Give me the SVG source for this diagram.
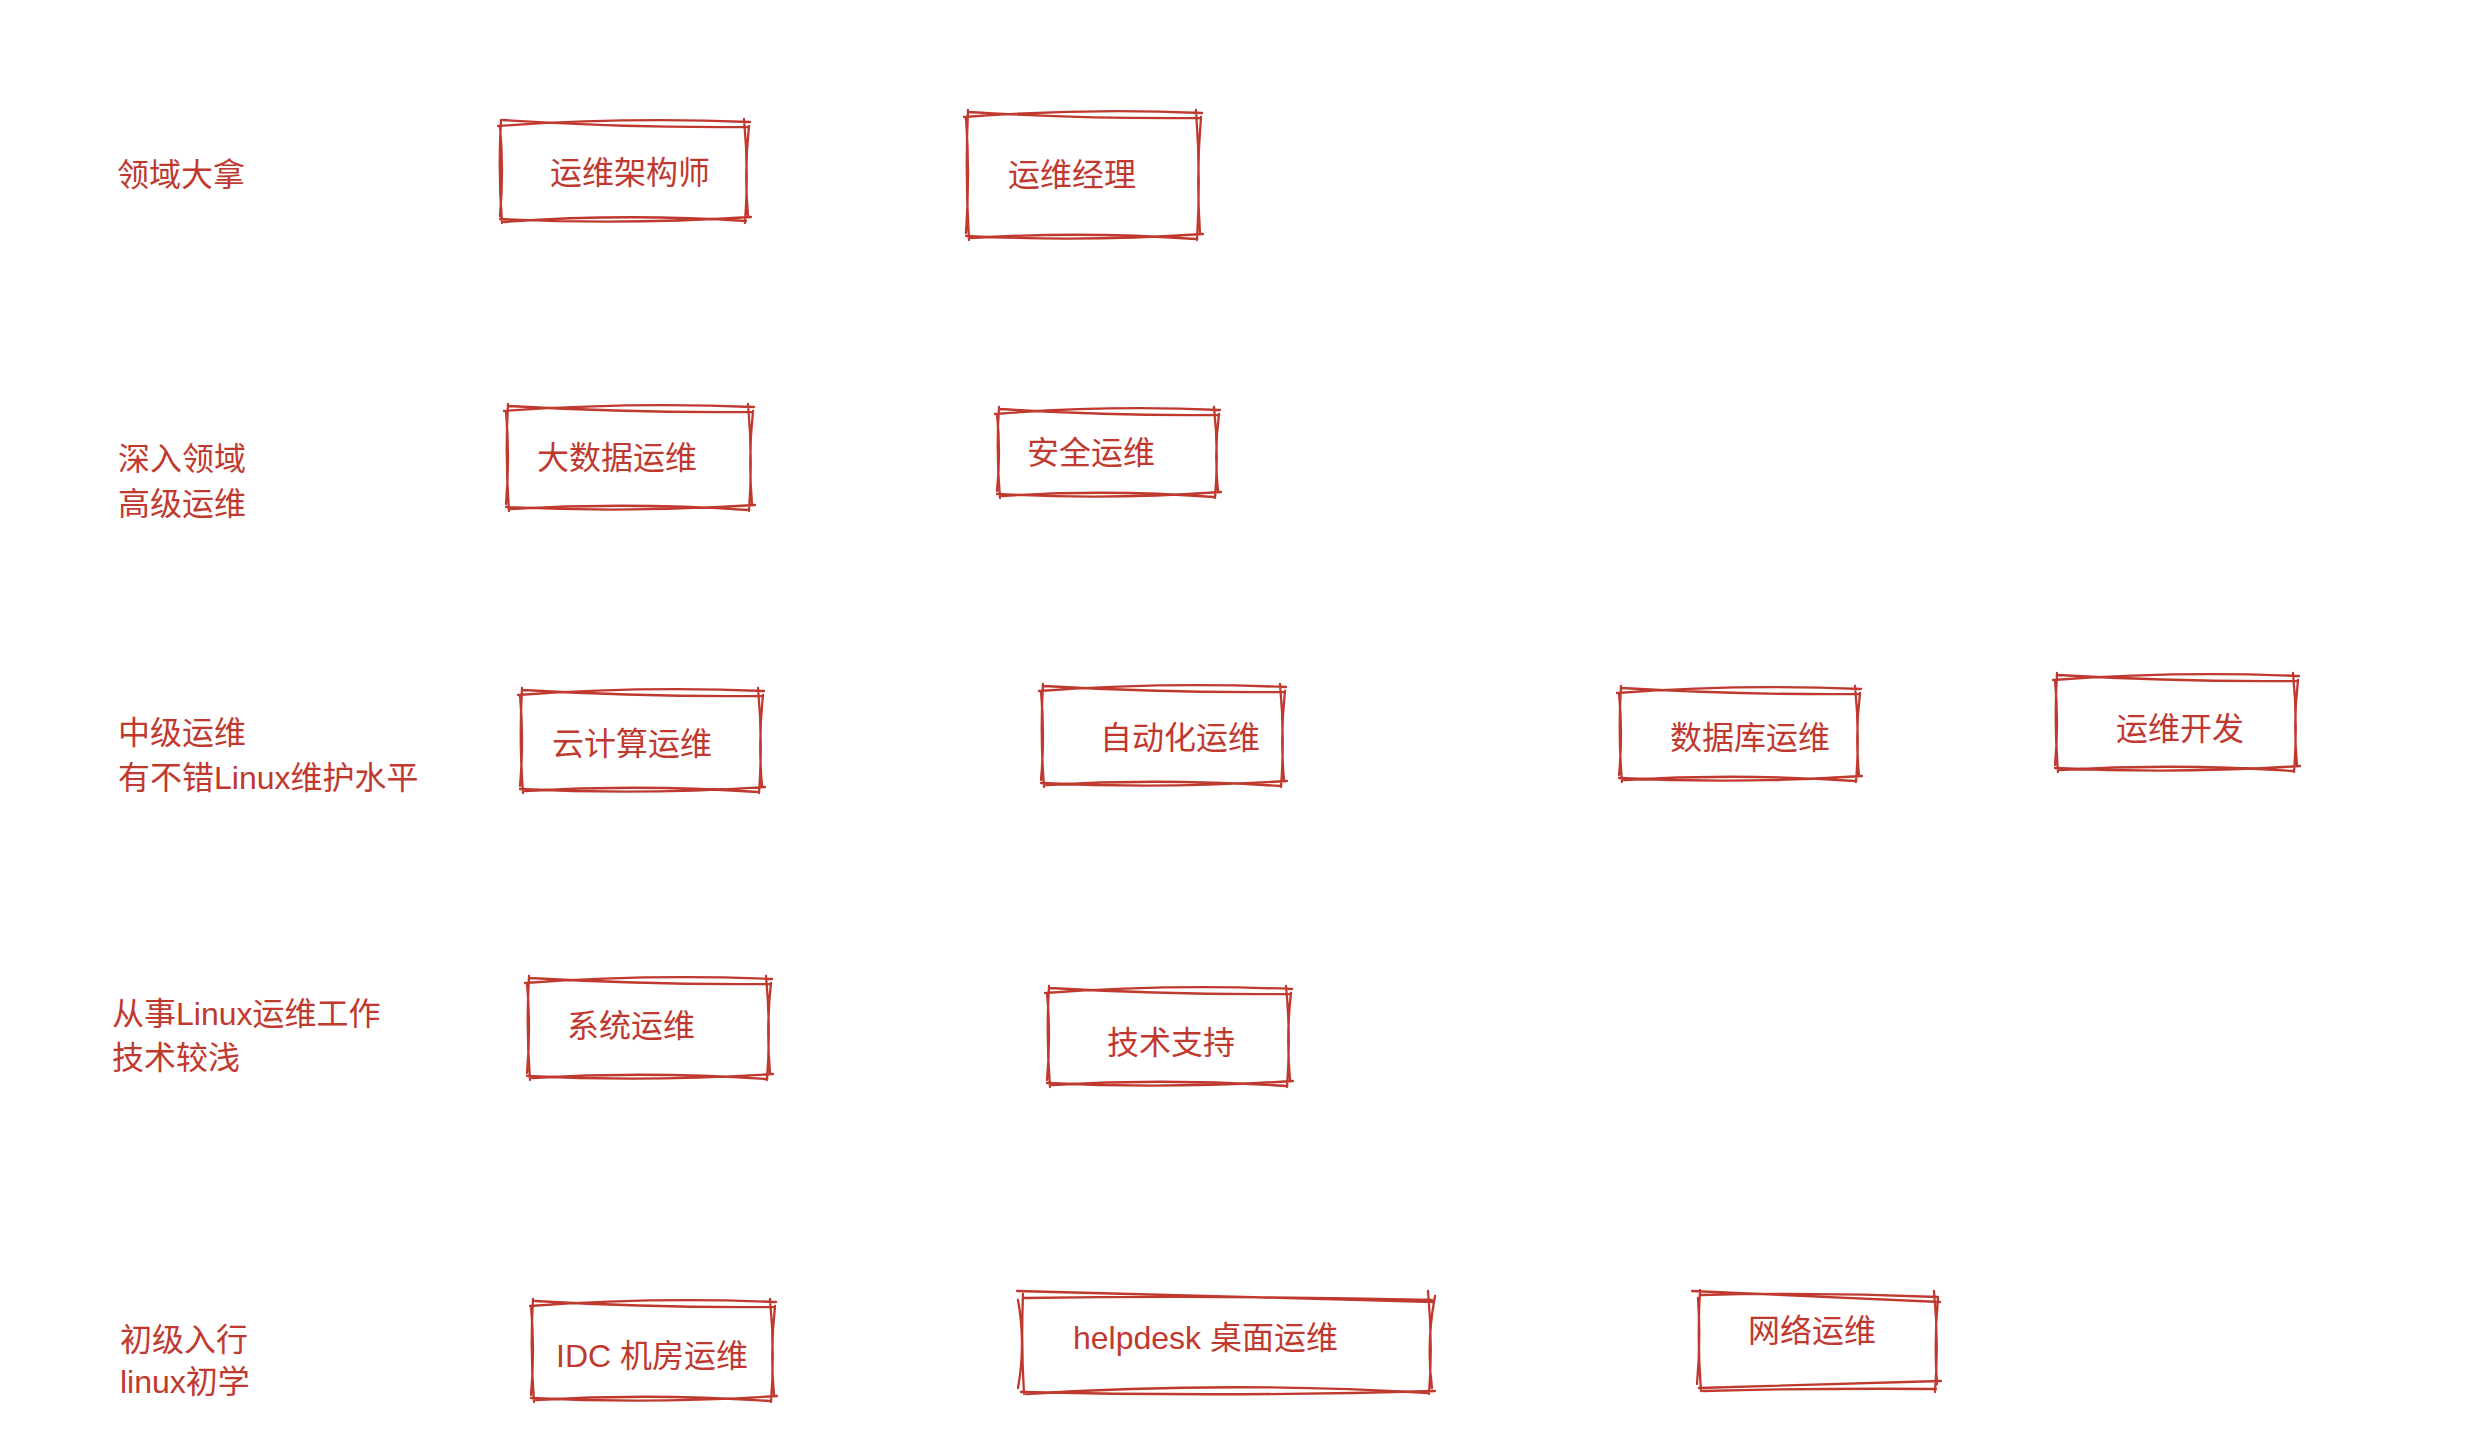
<svg xmlns="http://www.w3.org/2000/svg" width="2486" height="1450" viewBox="0 0 2486 1450">
<style>
.t{font-family:"Liberation Sans","Noto Sans CJK SC",sans-serif;font-size:32px;fill:#c0392f}
.b{fill:none;stroke:#c0392f;stroke-width:2.3;stroke-linecap:round;stroke-linejoin:round}
</style>
<rect x="0" y="0" width="2486" height="1450" fill="#ffffff"/>
<g id="labels">
<text class="t" x="117" y="186">领域大拿</text>
<text class="t" x="118" y="470">深入领域</text>
<text class="t" x="118" y="515">高级运维</text>
<text class="t" x="118" y="744">中级运维</text>
<text class="t" x="118" y="789">有不错Linux维护水平</text>
<text class="t" x="112" y="1025">从事Linux运维工作</text>
<text class="t" x="112" y="1069">技术较浅</text>
<text class="t" x="120" y="1351">初级入行</text>
<text class="t" x="120" y="1393">linux初学</text>
</g>
<g id="n1">
<path class="b" d="M498,126 Q624,117 750,122 M503,120 Q624,128 748,127 M744,119 Q749,171 745,223 M749,126 Q744,171 748,216 M751,217 Q624,225 500,219 M746,221 Q624,213 504,222 M502,223 Q498,171 501,120 M500,216 Q504,171 500,126"/>
<text class="t" x="550" y="184">运维架构师</text>
</g>
<g id="n2">
<path class="b" d="M964,117 Q1083,108 1202,113 M969,112 Q1083,119 1200,118 M1196,110 Q1201,175 1197,240 M1201,117 Q1196,175 1200,233 M1203,234 Q1083,242 966,236 M1196,239 Q1083,231 971,238 M969,240 Q965,175 968,110 M966,233 Q970,175 966,117"/>
<text class="t" x="1008" y="186">运维经理</text>
</g>
<g id="n3">
<path class="b" d="M504,411 Q629,402 754,407 M509,406 Q629,413 752,412 M748,404 Q753,457 749,511 M753,411 Q748,457 752,504 M755,505 Q629,513 506,507 M748,510 Q629,502 511,509 M509,511 Q505,457 508,404 M506,504 Q510,457 506,411"/>
<text class="t" x="537" y="469">大数据运维</text>
</g>
<g id="n4">
<path class="b" d="M995,414 Q1107,405 1220,410 M1000,409 Q1107,416 1218,415 M1214,407 Q1219,452 1215,498 M1219,414 Q1214,452 1218,491 M1221,492 Q1107,500 997,494 M1214,497 Q1107,489 1002,496 M1000,498 Q996,452 999,407 M997,491 Q1001,452 997,414"/>
<text class="t" x="1027" y="464">安全运维</text>
</g>
<g id="n5">
<path class="b" d="M518,695 Q641,686 764,691 M523,690 Q641,697 762,696 M758,688 Q763,740 759,793 M763,695 Q758,740 762,786 M765,787 Q641,795 520,789 M758,792 Q641,784 525,791 M523,793 Q519,740 522,688 M520,786 Q524,740 520,695"/>
<text class="t" x="552" y="755">云计算运维</text>
</g>
<g id="n6">
<path class="b" d="M1039,691 Q1162,682 1286,687 M1044,686 Q1162,693 1284,692 M1280,684 Q1285,735 1281,787 M1285,691 Q1280,735 1284,780 M1287,781 Q1162,789 1041,783 M1280,786 Q1162,778 1046,785 M1044,787 Q1040,735 1043,684 M1041,780 Q1045,735 1041,691"/>
<text class="t" x="1100" y="749">自动化运维</text>
</g>
<g id="n7">
<path class="b" d="M1617,693 Q1739,684 1861,689 M1622,688 Q1739,695 1859,694 M1855,686 Q1860,734 1856,782 M1860,693 Q1855,734 1859,775 M1862,776 Q1739,784 1619,778 M1855,781 Q1739,773 1624,780 M1622,782 Q1618,734 1621,686 M1619,775 Q1623,734 1619,693"/>
<text class="t" x="1670" y="749">数据库运维</text>
</g>
<g id="n8">
<path class="b" d="M2053,680 Q2176,671 2299,676 M2058,675 Q2176,682 2297,681 M2293,673 Q2298,722 2294,772 M2298,680 Q2293,722 2297,765 M2300,766 Q2176,774 2055,768 M2293,771 Q2176,763 2060,770 M2058,772 Q2054,722 2057,673 M2055,765 Q2059,722 2055,680"/>
<text class="t" x="2116" y="740">运维开发</text>
</g>
<g id="n9">
<path class="b" d="M525,983 Q648,974 772,979 M530,978 Q648,985 770,984 M766,976 Q771,1028 767,1080 M771,983 Q766,1028 770,1073 M773,1074 Q648,1082 527,1076 M766,1079 Q648,1071 532,1078 M530,1080 Q526,1028 529,976 M527,1073 Q531,1028 527,983"/>
<text class="t" x="567" y="1037">系统运维</text>
</g>
<g id="n10">
<path class="b" d="M1045,993 Q1168,984 1292,989 M1050,988 Q1168,995 1290,994 M1286,986 Q1291,1036 1287,1087 M1291,993 Q1286,1036 1290,1080 M1293,1081 Q1168,1089 1047,1083 M1286,1086 Q1168,1078 1052,1085 M1050,1087 Q1046,1036 1049,986 M1047,1080 Q1051,1036 1047,993"/>
<text class="t" x="1107" y="1054">技术支持</text>
</g>
<g id="n11">
<path class="b" d="M530,1306 Q652,1297 776,1302 M535,1301 Q652,1308 774,1307 M770,1299 Q775,1351 771,1402 M775,1306 Q770,1351 774,1395 M777,1396 Q652,1404 531,1398 M770,1401 Q652,1393 536,1400 M534,1402 Q530,1351 533,1299 M531,1395 Q535,1351 531,1306"/>
<text class="t" x="556" y="1367">IDC 机房运维</text>
</g>
<g id="n12">
<path class="b" d="M1017,1291 Q1227,1296 1434,1302 M1024,1298 Q1227,1295 1432,1300 M1428,1291 Q1433,1344 1429,1394 M1435,1296 Q1426,1344 1432,1388 M1435,1391 Q1227,1397 1021,1392 M1428,1393 Q1227,1381 1026,1394 M1024,1394 Q1021,1344 1023,1294 M1018,1388 Q1026,1344 1018,1300"/>
<text class="t" x="1073" y="1349">helpdesk 桌面运维</text>
</g>
<g id="n13">
<path class="b" d="M1692,1291 Q1818,1297 1940,1302 M1701,1295 Q1818,1292 1938,1297 M1934,1291 Q1939,1341 1935,1392 M1938,1298 Q1934,1341 1937,1384 M1941,1381 Q1818,1385 1699,1388 M1936,1389 Q1818,1388 1703,1391 M1701,1391 Q1697,1341 1700,1290 M1697,1384 Q1701,1341 1698,1298"/>
<text class="t" x="1748" y="1342">网络运维</text>
</g>
<g id="connectors"/>
</svg>
